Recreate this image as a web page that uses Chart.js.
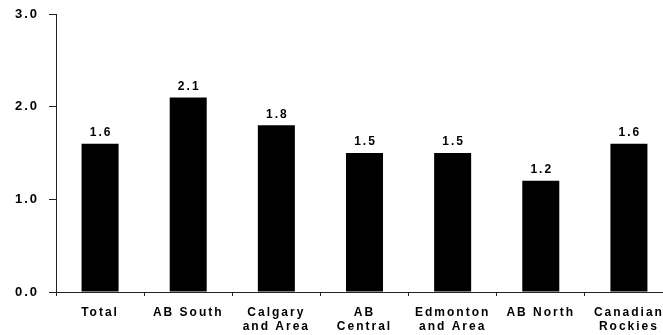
<!DOCTYPE html>
<html lang="en">
<head>
  <meta charset="UTF-8" />
  <title>Regional Rates</title>
  <script src="https://cdn.jsdelivr.net/npm/chart.js"></script>
  <style>
    html, body { margin: 0; padding: 0; background: #fff; overflow: hidden; }
    /* the plot runs a little past the right edge, so the last label is cut */
    #wrap { width: 663px; height: 335px; overflow: hidden; }
  </style>
</head>
<body>
  <div id="wrap"><canvas id="rateChart" width="673" height="335"></canvas></div>
  <script>
    const regions = [
      'Total', 'AB South', ['Calgary', 'and Area'], ['AB', 'Central'],
      ['Edmonton', 'and Area'], 'AB North', ['Canadian', 'Rockies']
    ];
    const rates = [1.6, 2.1, 1.8, 1.5, 1.5, 1.2, 1.6];
    const yTicks = [0, 1, 2, 3];

    const FONT = 'Arial, "Liberation Sans", sans-serif';

    // spaced-out lettering used for every label on the chart
    const spacing = {
      id: 'spacing',
      beforeDraw(chart) { chart.ctx.letterSpacing = '2px'; }
    };

    // value printed just above each bar
    const valueLabels = {
      id: 'valueLabels',
      afterDatasetsDraw(chart) {
        const ctx = chart.ctx;
        const meta = chart.getDatasetMeta(0);
        ctx.save();
        ctx.letterSpacing = '2px';
        ctx.font = 'bold 12px ' + FONT;
        ctx.fillStyle = '#000';
        ctx.textAlign = 'center';
        ctx.textBaseline = 'bottom';
        meta.data.forEach((bar, i) => {
          ctx.fillText(rates[i].toFixed(1), bar.x + 1, bar.y - 5);
        });
        ctx.restore();
      }
    };

    new Chart(document.getElementById('rateChart'), {
      type: 'bar',
      data: {
        labels: regions,
        datasets: [{
          data: rates,
          backgroundColor: '#000',
          barPercentage: 0.42,
          categoryPercentage: 1
        }]
      },
      options: {
        responsive: false,
        animation: false,
        layout: { padding: { top: 14, right: 0, left: 0, bottom: 0 } },
        plugins: { legend: { display: false }, tooltip: { enabled: false } },
        scales: {
          y: {
            min: 0,
            max: 3,
            afterFit(scale) {
              scale.width = 56;
              scale.paddingTop = 0;
              scale.paddingBottom = 0;
            },
            afterBuildTicks(scale) { scale.ticks = yTicks.map(v => ({ value: v })); },
            border: { color: '#222', width: 1 },
            grid: { drawOnChartArea: false, tickLength: 7, color: '#222' },
            ticks: {
              padding: 10,
              color: '#000',
              font: { family: FONT, size: 13, weight: 'bold' },
              callback: v => v.toFixed(1)
            }
          },
          x: {
            afterFit(scale) {
              scale.height = 43;
              scale.paddingLeft = 0;
              scale.paddingRight = 0;
            },
            border: { color: '#222', width: 1 },
            grid: { drawOnChartArea: false, tickLength: 4, color: '#222', offset: true },
            ticks: {
              padding: 9,
              color: '#000',
              maxRotation: 0,
              autoSkip: false,
              font: { family: FONT, size: 12, weight: 'bold', lineHeight: 1.2 }
            }
          }
        }
      },
      plugins: [spacing, valueLabels]
    });
  </script>
</body>
</html>
